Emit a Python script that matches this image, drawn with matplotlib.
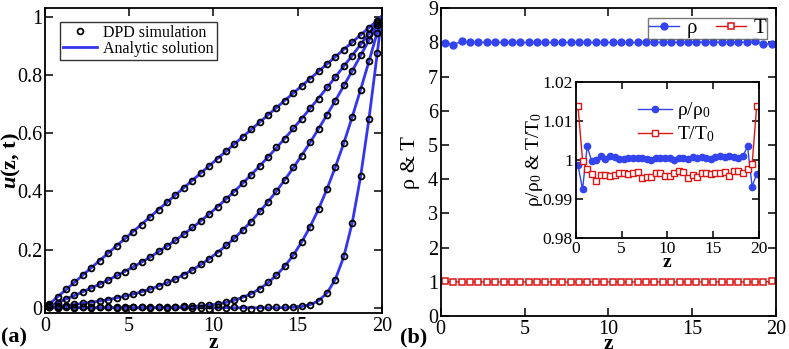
import numpy as np
import matplotlib
matplotlib.use("Agg")
import matplotlib.pyplot as plt
from matplotlib.lines import Line2D

plt.rcParams['font.family'] = ['Liberation Serif', 'DejaVu Serif']
plt.rcParams['mathtext.fontset'] = 'custom'
plt.rcParams['mathtext.rm'] = 'Liberation Serif'
plt.rcParams['mathtext.it'] = 'Liberation Serif:italic:bold'
plt.rcParams['mathtext.bf'] = 'Liberation Serif:bold'

# ---------------- data ----------------
z_bins = [0.25, 0.75, 1.25, 1.75, 2.25, 2.75, 3.25, 3.75, 4.25, 4.75,
          5.25, 5.75, 6.25, 6.75, 7.25, 7.75, 8.25, 8.75, 9.25, 9.75,
          10.25, 10.75, 11.25, 11.75, 12.25, 12.75, 13.25, 13.75, 14.25, 14.75,
          15.25, 15.75, 16.25, 16.75, 17.25, 17.75, 18.25, 18.75, 19.25, 19.75]
z_line = [0.0] + z_bins + [20.0]

# analytic solution, one list per time
ana_1 = [0.0, 0.0125, 0.0375, 0.0625, 0.0875, 0.1125, 0.1375, 0.1625, 0.1875, 0.2125, 0.2375,
         0.2625, 0.2875, 0.3125, 0.3375, 0.3625, 0.3875, 0.4125, 0.4375, 0.4625, 0.4875,
         0.5125, 0.5375, 0.5625, 0.5875, 0.6125, 0.6375, 0.6625, 0.6875, 0.7125, 0.7375,
         0.7625, 0.7875, 0.8125, 0.8375, 0.8625, 0.8875, 0.9125, 0.9375, 0.9625, 0.9875, 1.0]
ana_2 = [0.0, 0.006, 0.018, 0.030, 0.042, 0.055, 0.068, 0.081, 0.095, 0.110, 0.125,
         0.141, 0.157, 0.174, 0.193, 0.212, 0.232, 0.253, 0.275, 0.298, 0.322,
         0.347, 0.373, 0.400, 0.428, 0.457, 0.487, 0.518, 0.550, 0.582, 0.616,
         0.650, 0.685, 0.720, 0.756, 0.793, 0.830, 0.867, 0.905, 0.943, 0.981, 1.0]
ana_3 = [0.0, 0.002, 0.005, 0.008, 0.011, 0.015, 0.019, 0.023, 0.028, 0.034, 0.040,
         0.047, 0.055, 0.064, 0.075, 0.086, 0.099, 0.114, 0.130, 0.148, 0.168,
         0.190, 0.213, 0.239, 0.267, 0.297, 0.330, 0.364, 0.401, 0.440, 0.481,
         0.524, 0.568, 0.615, 0.663, 0.712, 0.763, 0.814, 0.867, 0.920, 0.973, 1.0]
ana_4 = [0.0, 0, 0, 0, 0, 0, 0, 0, 0, 0, 0, 0, 0,
         0.0005, 0.0008, 0.0012, 0.0018, 0.0028, 0.0042, 0.0062, 0.0091, 0.013, 0.018,
         0.026, 0.036, 0.048, 0.065, 0.086, 0.112, 0.143, 0.181, 0.226, 0.279,
         0.339, 0.408, 0.484, 0.566, 0.656, 0.750, 0.848, 0.949, 1.0]
ana_5 = [0.0, 0, 0, 0, 0, 0, 0, 0, 0, 0, 0, 0, 0, 0, 0, 0, 0, 0, 0, 0, 0, 0, 0, 0, 0, 0, 0, 0,
         0.0002, 0.0006, 0.0016, 0.0043, 0.0105, 0.0241, 0.0506, 0.098, 0.176,
         0.292, 0.452, 0.652, 0.880, 1.0]

# DPD simulation values
dpd_1 = [0.013, 0.038, 0.063, 0.087, 0.113, 0.137, 0.162, 0.188, 0.213, 0.239,
         0.262, 0.286, 0.311, 0.337, 0.362, 0.388, 0.413, 0.437, 0.462, 0.487,
         0.512, 0.538, 0.562, 0.587, 0.613, 0.637, 0.662, 0.688, 0.712, 0.737,
         0.763, 0.787, 0.812, 0.838, 0.862, 0.887, 0.913, 0.937, 0.962, 0.985]
dpd_2 = [0.008, 0.017, 0.031, 0.043, 0.054, 0.069, 0.080, 0.096, 0.111, 0.124,
         0.143, 0.156, 0.175, 0.194, 0.211, 0.233, 0.252, 0.276, 0.297, 0.321,
         0.346, 0.374, 0.399, 0.429, 0.456, 0.488, 0.517, 0.551, 0.581, 0.617,
         0.649, 0.686, 0.719, 0.757, 0.792, 0.831, 0.866, 0.906, 0.942, 0.978]
dpd_3 = [0.003, 0.006, 0.007, 0.012, 0.016, 0.018, 0.024, 0.027, 0.035, 0.041,
         0.046, 0.054, 0.065, 0.074, 0.087, 0.098, 0.113, 0.131, 0.152, 0.167,
         0.189, 0.214, 0.238, 0.268, 0.296, 0.331, 0.363, 0.402, 0.439, 0.482,
         0.523, 0.569, 0.614, 0.664, 0.711, 0.764, 0.813, 0.868, 0.919, 0.970]
dpd_4 = [0.004, 0.003, 0.006, 0.002, 0.003, 0.001, 0.002, 0.001, 0.003, 0.002,
         0.001, 0.003, 0.002, 0.003, 0.004, 0.002, 0.005, 0.006, 0.008, 0.011,
         0.014, 0.019, 0.027, 0.035, 0.049, 0.064, 0.087, 0.111, 0.144, 0.180,
         0.227, 0.278, 0.340, 0.407, 0.485, 0.565, 0.657, 0.749, 0.849, 0.945]
dpd_5 = [0.001, 0.000, 0.002, -0.001, 0.001, 0.000, 0.002, 0.001, -0.001, 0.000,
         0.002, 0.001, -0.001, 0.001, 0.000, 0.002, 0.001, 0.000, -0.002, -0.004,
         0.001, 0.000, 0.001, -0.002, -0.003, -0.002, 0.001, 0.002, 0.001, 0.002,
         0.005, 0.011, 0.024, 0.051, 0.097, 0.177, 0.291, 0.452, 0.650, 0.875]

analytic = [ana_1, ana_2, ana_3, ana_4, ana_5]
dpd = [dpd_1, dpd_2, dpd_3, dpd_4, dpd_5]

# panel (b)
rho = [7.99, 7.94, 8.03, 8.00, 8.00, 8.01, 8.00, 8.01, 8.01, 8.00,
       8.00, 8.00, 8.00, 8.00, 8.00, 8.00, 8.00, 8.00, 8.00, 8.00,
       8.00, 8.00, 8.00, 8.00, 8.00, 8.01, 8.00, 8.01, 8.00, 8.00,
       8.01, 8.01, 8.01, 8.01, 8.01, 8.00, 8.01, 8.03, 7.95, 7.97]
temp = [1.014, 1.000, 0.998, 0.996, 0.995, 0.996, 0.996, 0.996, 0.996, 0.997,
        0.997, 0.996, 0.997, 0.997, 0.995, 0.996, 0.996, 0.997, 0.997, 0.996,
        0.996, 0.997, 0.997, 0.997, 0.996, 0.996, 0.996, 0.997, 0.997, 0.997,
        0.997, 0.997, 0.997, 0.996, 0.997, 0.997, 0.997, 0.998, 0.999, 1.014]
rho_ratio = [0.9986, 0.9925, 1.0035, 0.9997, 1.0000, 1.0010, 1.0003, 1.0010, 1.0008, 1.0003,
             1.0003, 1.0005, 1.0005, 1.0006, 1.0006, 1.0002, 1.0001, 1.0005, 1.0006, 1.0004,
             1.0005, 1.0001, 1.0005, 1.0004, 1.0002, 1.0008, 1.0006, 1.0008, 1.0005, 1.0003,
             1.0007, 1.0009, 1.0007, 1.0010, 1.0008, 1.0004, 1.0010, 1.0035, 0.9932, 0.9965]
temp_ratio = [1.0137, 0.9998, 0.9977, 0.9963, 0.9946, 0.9962, 0.9962, 0.9958, 0.9962, 0.9967,
              0.9966, 0.9964, 0.9967, 0.9970, 0.9953, 0.9957, 0.9957, 0.9966, 0.9968, 0.9960,
              0.9958, 0.9967, 0.9971, 0.9970, 0.9955, 0.9962, 0.9957, 0.9966, 0.9967, 0.9965,
              0.9966, 0.9967, 0.9970, 0.9960, 0.9971, 0.9973, 0.9968, 0.9976, 0.9990, 1.0137]

# ---------------- figure ----------------
W, H = 789, 349
fig = plt.figure(figsize=(W / 100, H / 100), dpi=100)

BLUE_L = '#3535f0'
BLUE = '#3344ee'
RED = '#dd1515'

def style(ax, size=12, tl=5, pad=3):
    ax.tick_params(direction='in', top=True, right=True, length=tl, width=1.1,
                   labelsize=size, pad=pad, colors='black')
    for s in ax.spines.values():
        s.set_linewidth(1.3)

# (a)
axA = fig.add_axes([45 / W, 1 - 313 / H, (381.7 - 45) / W, (313 - 8) / H])
for a_vals in analytic:
    axA.plot(z_line, a_vals, color=BLUE_L, lw=2.0, zorder=2)
for d_vals in dpd:
    axA.plot(z_bins, d_vals, ls='none', marker='o', ms=4.2, mfc='none', mec='black',
             mew=1.3, zorder=3)
axA.set_xlim(0, 20)
axA.set_ylim(-0.018, 1.03)
axA.set_xticks([0, 5, 10, 15, 20])
axA.set_yticks([0, 0.2, 0.4, 0.6, 0.8, 1.0])
axA.set_yticklabels(['0', '0.2', '0.4', '0.6', '0.8', '1'])
style(axA, size=14.5, tl=6, pad=2)
axA.tick_params(axis='x', pad=3)
axA.set_xlabel('z', fontsize=15.5, fontweight='bold')
axA.xaxis.set_label_coords(0.5, -0.065)
axA.set_ylabel(r'$u$(z, t)', fontsize=16, fontweight='bold')
axA.yaxis.set_label_coords(-0.066, 0.5)
hA = [Line2D([], [], ls='none', marker='o', ms=4.2, mfc='none', mec='black', mew=1.3),
      Line2D([], [], color=BLUE_L, lw=2.0)]
legA = axA.legend(hA, ['DPD simulation', 'Analytic solution'], loc='upper left',
                  bbox_to_anchor=(0.045, 0.955), borderaxespad=0, fontsize=11.5,
                  frameon=True, fancybox=False, edgecolor='black', handlelength=2.1,
                  handletextpad=0.4, borderpad=0.2, labelspacing=0.0)
legA.get_frame().set_linewidth(1.0)

# (b)
axB = fig.add_axes([440.7 / W, 1 - 316 / H, (776 - 440.7) / W, (316 - 8.3) / H])
axB.plot(z_bins, rho, color=BLUE, lw=1.0, marker='o', ms=5, mfc=BLUE, mec=BLUE)
axB.plot(z_bins, temp, color=RED, lw=1.0, marker='s', ms=4.5, mfc='white', mec=RED, mew=1.1)
axB.set_xlim(0, 20)
axB.set_ylim(0, 9)
axB.set_xticks([0, 5, 10, 15, 20])
axB.set_yticks(range(10))
style(axB, size=14.5, tl=6, pad=2)
axB.tick_params(axis='x', pad=3)
axB.set_xlabel('z', fontsize=15.5, fontweight='bold')
axB.xaxis.set_label_coords(0.5, -0.057)
axB.set_ylabel('ρ & T', fontsize=16)
axB.yaxis.set_label_coords(-0.062, 0.5)
hB = [Line2D([], [], color=BLUE, lw=1.0, marker='o', ms=5, mfc=BLUE, mec=BLUE),
      Line2D([], [], color=RED, lw=1.0, marker='s', ms=4.5, mfc='white', mec=RED, mew=1.1)]
legB = axB.legend(hB, ['ρ', 'T'], loc='upper right', bbox_to_anchor=(0.973, 0.968),
                  borderaxespad=0, ncol=2, fontsize=15, frameon=True, fancybox=False,
                  edgecolor='#555555', handlelength=1.45, handletextpad=0.35,
                  columnspacing=0.9, borderpad=0.05, handleheight=0.6)
legB.get_frame().set_linewidth(1.0)

# inset
axI = fig.add_axes([575.7 / W, 1 - 238.3 / H, (759 - 575.7) / W, (238.3 - 81.7) / H])
axI.plot(z_bins, rho_ratio, color=BLUE, lw=1.0, marker='o', ms=4.5, mfc=BLUE, mec=BLUE)
axI.plot(z_bins, temp_ratio, color=RED, lw=1.0, marker='s', ms=4, mfc='white', mec=RED, mew=1.0)
axI.set_xlim(0, 20)
axI.set_ylim(0.98, 1.02)
axI.set_xticks([0, 5, 10, 15, 20])
axI.set_yticks([0.98, 0.99, 1.0, 1.01, 1.02])
axI.set_yticklabels(['0.98', '0.99', '1', '1.01', '1.02'])
style(axI, size=12.5, tl=5, pad=2)
axI.tick_params(axis='x', pad=2)
axI.set_xlabel('z', fontsize=14, fontweight='bold')
axI.xaxis.set_label_coords(0.5, -0.1)
axI.set_ylabel(r'ρ/ρ$_0$ & T/T$_0$', fontsize=14)
axI.yaxis.set_label_coords(-0.165, 0.5)
hI = [Line2D([], [], color=BLUE, lw=1.0, marker='o', ms=4.5, mfc=BLUE, mec=BLUE),
      Line2D([], [], color=RED, lw=1.0, marker='s', ms=4, mfc='white', mec=RED, mew=1.0)]
axI.legend(hI, [r'ρ/ρ$_0$', r'T/T$_0$'], loc='upper left', bbox_to_anchor=(0.30, 0.93),
           borderaxespad=0, frameon=False, fontsize=14, handlelength=1.7,
           handletextpad=0.3, labelspacing=0.15)

fig.text(1 / W, 1 - 347 / H, '(a)', fontsize=16, fontweight='bold', ha='left', va='bottom')
fig.text(400 / W, 1 - 347 / H, '(b)', fontsize=16, fontweight='bold', ha='left', va='bottom')

fig.savefig('out.png', dpi=100)
